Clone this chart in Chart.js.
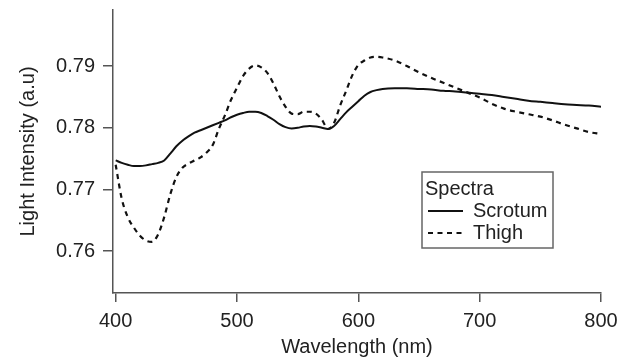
<!DOCTYPE html>
<html>
<head>
<meta charset="utf-8">
<script src="https://cdn.jsdelivr.net/npm/chart.js@4"></script>
<style>
  html, body { margin: 0; padding: 0; background: #fff; }
  #wrap { width: 630px; height: 362px; }
</style>
</head>
<body>
<div id="wrap"><canvas id="spec" width="630" height="362"></canvas></div>
<script>
// --- Data ---
const wavelengths = [400,405,410,415,420,425,430,435,440,445,450,455,460,465,470,475,480,485,490,495,
  500,505,510,515,520,525,530,535,540,545,550,555,560,565,570,575,580,585,590,595,600,605,610,615,620,
  630,640,650,660,670,680,690,700,710,720,730,740,750,760,770,780,790,800];

const scrotum = [0.7747,0.7743,0.7740,0.7738,0.7738,0.7739,0.7741,0.7743,0.7747,0.7758,0.7770,0.7779,0.7786,0.7792,0.7796,0.7800,0.7804,0.7808,0.7812,0.7817,
  0.7821,0.7824,0.7826,0.7826,0.7824,0.7819,0.7813,0.7806,0.7801,0.7799,0.7800,0.7802,0.7803,0.7802,0.7800,0.7798,0.7803,0.7814,0.7825,0.7834,0.7843,0.7852,0.7858,0.7861,0.7863,
  0.7864,0.7864,0.7863,0.7862,0.7860,0.7859,0.7857,0.7855,0.7853,0.7850,0.7847,0.7844,0.7842,0.7840,0.7838,0.7837,0.7836,0.7834];

const thigh = [0.7740,0.7685,0.7655,0.7638,0.7625,0.7617,0.7615,0.7627,0.7655,0.7692,0.7720,0.7735,0.7742,0.7747,0.7752,0.7760,0.7772,0.7798,0.7820,0.7845,
  0.7865,0.7884,0.7896,0.7901,0.7898,0.7889,0.7872,0.7851,0.7834,0.7823,0.7822,0.7826,0.7826,0.7823,0.7813,0.7798,0.7808,0.7836,0.7860,0.7885,0.7902,0.7909,0.7914,0.7915,0.7914,
  0.7909,0.7900,0.7890,0.7881,0.7873,0.7865,0.7857,0.7849,0.7839,0.7831,0.7826,0.7822,0.7818,0.7812,0.7805,0.7799,0.7793,0.7790];

const xTicks = [400, 500, 600, 700, 800];
const yTicks = [0.76, 0.77, 0.78, 0.79];

const FONT = { family: '"Liberation Sans", Arial, sans-serif', size: 20 };
const AXIS = '#555';

// legend drawn as a bordered box with a title, like the original
const boxLegend = {
  id: 'boxLegend',
  afterDraw(chart, args, o) {
    const ctx = chart.ctx;
    ctx.save();
    ctx.strokeStyle = '#666';
    ctx.lineWidth = 1.5;
    ctx.strokeRect(o.left, o.top, o.width, o.height);
    ctx.font = `${FONT.size}px ${FONT.family}`;
    ctx.fillStyle = '#222';
    ctx.textBaseline = 'middle';
    ctx.fillText(o.title, o.left + 3, o.top + 17);
    chart.data.datasets.forEach((ds, i) => {
      const y = o.top + 39 + i * 22;
      ctx.strokeStyle = ds.borderColor;
      ctx.lineWidth = ds.borderWidth;
      ctx.setLineDash(ds.borderDash || []);
      ctx.beginPath();
      ctx.moveTo(o.left + 6, y);
      ctx.lineTo(o.left + 41, y);
      ctx.stroke();
      ctx.setLineDash([]);
      ctx.fillText(ds.label, o.left + 51, y);
    });
    ctx.restore();
  }
};

const pts = arr => arr.map((v, i) => ({ x: wavelengths[i], y: v }));

new Chart(document.getElementById('spec'), {
  type: 'line',
  data: {
    datasets: [
      { label: 'Scrotum', data: pts(scrotum), borderColor: '#111', borderWidth: 2, pointRadius: 0, cubicInterpolationMode: 'monotone' },
      { label: 'Thigh', data: pts(thigh), borderColor: '#111', borderWidth: 2.2, borderDash: [5, 4.5], pointRadius: 0, cubicInterpolationMode: 'monotone' }
    ]
  },
  options: {
    responsive: false,
    animation: false,
    layout: { padding: { top: 10, right: 29, left: 0, bottom: 0 } },
    plugins: {
      legend: { display: false },
      tooltip: { enabled: false },
      boxLegend: { title: 'Spectra', left: 422, top: 172, width: 131, height: 76 }
    },
    scales: {
      x: {
        type: 'linear', min: 397.8, max: 800,
        afterBuildTicks: s => { s.ticks = xTicks.map(v => ({ value: v })); },
        afterFit: s => { s.height = 69; s.paddingLeft = 0; },
        grid: { drawOnChartArea: false, drawTicks: true, tickLength: 9, color: AXIS, lineWidth: 1.5 },
        border: { display: true, color: AXIS, width: 1.5 },
        ticks: { font: FONT, color: '#222', padding: 7, maxRotation: 0 },
        title: { display: true, text: 'Wavelength (nm)', font: FONT, color: '#222', padding: { top: 0, bottom: 3 } }
      },
      y: {
        min: 0.7532, max: 0.7991,
        afterBuildTicks: s => { s.ticks = yTicks.map(v => ({ value: v })); },
        afterFit: s => { s.width = 113; s.paddingTop = 0; s.paddingBottom = 0; },
        grid: { drawOnChartArea: false, drawTicks: true, tickLength: 10, color: AXIS, lineWidth: 1.5 },
        border: { display: true, color: AXIS, width: 1.5 },
        ticks: { font: FONT, color: '#222', padding: 8, callback: v => v.toFixed(2) },
        title: { display: true, text: 'Light Intensity (a.u)', font: FONT, color: '#222', padding: { top: 16, bottom: 0 } }
      }
    }
  },
  plugins: [boxLegend]
});
</script>
</body>
</html>
